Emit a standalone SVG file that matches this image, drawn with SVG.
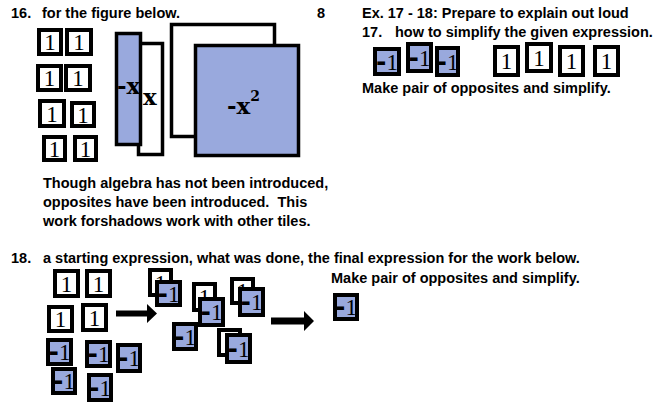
<svg xmlns="http://www.w3.org/2000/svg" width="659" height="403" viewBox="0 0 659 403">
<style>
.t{font-family:"Liberation Sans",Arial,sans-serif;font-weight:bold;font-size:14.5px;fill:#000;white-space:pre}
.w{fill:#fff;stroke:#000;stroke-width:4}
.wl{fill:#fff;stroke:#000;stroke-width:3.5}
.b{fill:#99a9dd;stroke:#000;stroke-width:4}
.bl{fill:#99a9dd;stroke:#000;stroke-width:3.5}
.n{font-family:"Liberation Serif",serif;font-size:23px;text-anchor:middle;fill:#000}
.d{font-family:"DejaVu Sans",sans-serif;font-weight:bold;font-size:25px}
.x{font-family:"DejaVu Serif",serif;font-weight:bold;font-size:23px;fill:#000}
.arr{fill:#000}
</style>
<rect width="659" height="403" fill="#fff"/>
<g id="texts">
<text class="t" x="11" y="18">16.</text>
<text class="t" x="42" y="18">for the figure below.</text>
<text class="t" x="317" y="18">8</text>
<text class="t" x="362" y="18">Ex. 17 - 18: Prepare to explain out loud</text>
<text class="t" x="362" y="37">17.</text>
<text class="t" x="395" y="37">how to simplify the given expression.</text>
<text class="t" x="362" y="93">Make pair of opposites and simplify.</text>
<text class="t" x="43" y="188">Though algebra has not been introduced,</text>
<text class="t" x="43" y="207" xml:space="preserve">opposites have been introduced.  This</text>
<text class="t" x="43" y="226">work forshadows work with other tiles.</text>
<text class="t" x="11" y="263">18.</text>
<text class="t" x="43" y="263">a starting expression, what was done, the final expression for the work below.</text>
<text class="t" x="331" y="283">Make pair of opposites and simplify.</text>
</g>
<g id="p16-ones">
<g id="p16-t1"><rect class="w" x="39" y="30" width="22" height="24"/><text class="n" x="50" y="50">1</text></g>
<g id="p16-t2"><rect class="w" x="67" y="30" width="24" height="24"/><text class="n" x="79" y="50">1</text></g>
<g id="p16-t3"><rect class="w" x="38" y="66" width="23" height="24"/><text class="n" x="49.5" y="86">1</text></g>
<g id="p16-t4"><rect class="w" x="66" y="66" width="24" height="24"/><text class="n" x="78" y="86">1</text></g>
<g id="p16-t5"><rect class="w" x="40" y="101" width="24" height="25"/><text class="n" x="52" y="121.5">1</text></g>
<g id="p16-t6"><rect class="w" x="72" y="103" width="22" height="23"/><text class="n" x="83" y="122.5">1</text></g>
<g id="p16-t7"><rect class="w" x="44" y="137" width="21" height="23"/><text class="n" x="54.5" y="156.5">1</text></g>
<g id="p16-t8"><rect class="w" x="75" y="137" width="21" height="23"/><text class="n" x="85.5" y="156.5">1</text></g>
</g>
<g id="p16-x"><rect class="wl" x="138.5" y="43.5" width="24" height="111"/><text class="x" x="143" y="105">x</text></g>
<g id="p16-negx"><rect class="bl" x="116.5" y="33.5" width="24" height="111"/><text class="x" x="117" y="94">-x</text></g>
<g id="p16-x2"><rect class="wl" x="171.5" y="24.5" width="103" height="112"/></g>
<g id="p16-negx2"><rect class="bl" x="195.5" y="45.5" width="103" height="110"/><text class="x" x="227" y="114">-x<tspan font-size="14" dy="-13">2</tspan></text></g>
<g id="p17-tiles">
<g id="p17-b1"><rect class="b" x="375" y="49" width="24" height="25"/><text class="n" x="387" y="69.5"><tspan class="d">-</tspan>1</text></g>
<g id="p17-b2"><rect class="b" x="408" y="44" width="23" height="27"/><text class="n" x="419.5" y="65.5"><tspan class="d">-</tspan>1</text></g>
<g id="p17-b3"><rect class="b" x="437" y="48" width="21" height="27"/><text class="n" x="447.5" y="69.5"><tspan class="d">-</tspan>1</text></g>
<g id="p17-w1"><rect class="w" x="495" y="47" width="23" height="28"/><text class="n" x="506.5" y="69">1</text></g>
<g id="p17-w2"><rect class="w" x="527" y="44" width="24" height="27"/><text class="n" x="539" y="65.5">1</text></g>
<g id="p17-w3"><rect class="w" x="560" y="47" width="23" height="28"/><text class="n" x="571.5" y="69">1</text></g>
<g id="p17-w4"><rect class="w" x="595" y="47" width="23" height="28"/><text class="n" x="606.5" y="69">1</text></g>
</g>
<g id="p18-start">
<g id="p18-w1"><rect class="w" x="55" y="271" width="23" height="25"/><text class="n" x="66.5" y="291.5">1</text></g>
<g id="p18-w2"><rect class="w" x="87" y="271" width="23" height="25"/><text class="n" x="98.5" y="291.5">1</text></g>
<g id="p18-w3"><rect class="w" x="49" y="307" width="23" height="24"/><text class="n" x="60.5" y="327">1</text></g>
<g id="p18-w4"><rect class="w" x="83" y="305" width="23" height="25"/><text class="n" x="94.5" y="325.5">1</text></g>
<g id="p18-b1"><rect class="b" x="48" y="340" width="23" height="24"/><text class="n" x="59.5" y="360"><tspan class="d">-</tspan>1</text></g>
<g id="p18-b2"><rect class="b" x="87" y="342" width="23" height="24"/><text class="n" x="98.5" y="362"><tspan class="d">-</tspan>1</text></g>
<g id="p18-b3"><rect class="b" x="118" y="345" width="22" height="26"/><text class="n" x="129" y="366"><tspan class="d">-</tspan>1</text></g>
<g id="p18-b4"><rect class="b" x="53" y="369" width="22" height="24"/><text class="n" x="64" y="389"><tspan class="d">-</tspan>1</text></g>
<g id="p18-b5"><rect class="b" x="89" y="375" width="22" height="25"/><text class="n" x="100" y="395.5"><tspan class="d">-</tspan>1</text></g>
</g>
<g id="p18-middle">
<g id="p18-pairA">
<rect class="w" x="150" y="270" width="21" height="25"/><text class="n" x="160.5" y="290.5">1</text>
<rect class="b" x="157" y="282" width="23" height="23"/><text class="n" x="168.5" y="301.5"><tspan class="d">-</tspan>1</text>
</g>
<g id="p18-pairB">
<rect class="w" x="194" y="284" width="21" height="26"/><text class="n" x="204.5" y="305">1</text>
<rect class="b" x="200" y="299" width="23" height="26"/><text class="n" x="211.5" y="320"><tspan class="d">-</tspan>1</text>
</g>
<g id="p18-pairC">
<rect class="w" x="232" y="279" width="21" height="24"/><text class="n" x="242.5" y="299">1</text>
<rect class="b" x="240" y="289" width="23" height="26"/><text class="n" x="251.5" y="310"><tspan class="d">-</tspan>1</text>
</g>
<g id="p18-pairE">
<rect class="w" x="219" y="330" width="21" height="25"/><text class="n" x="229.5" y="350.5">1</text>
<rect class="b" x="227" y="335" width="23" height="27"/><text class="n" x="238.5" y="356.5"><tspan class="d">-</tspan>1</text>
</g>
<g id="p18-single"><rect class="b" x="174" y="324" width="22" height="25"/><text class="n" x="185" y="344.5"><tspan class="d">-</tspan>1</text></g>
</g>
<g id="p18-final"><rect class="b" x="335" y="295" width="22" height="24"/><text class="n" x="346" y="315"><tspan class="d">-</tspan>1</text></g>
<g id="connectors">
<polygon class="arr" points="116,310.5 147,310.5 147,304 157,313.5 147,323 147,316.5 116,316.5"/>
<polygon class="arr" points="271,317.5 304,317.5 304,311 314,321 304,331 304,324.5 271,324.5"/>
</g>
</svg>
